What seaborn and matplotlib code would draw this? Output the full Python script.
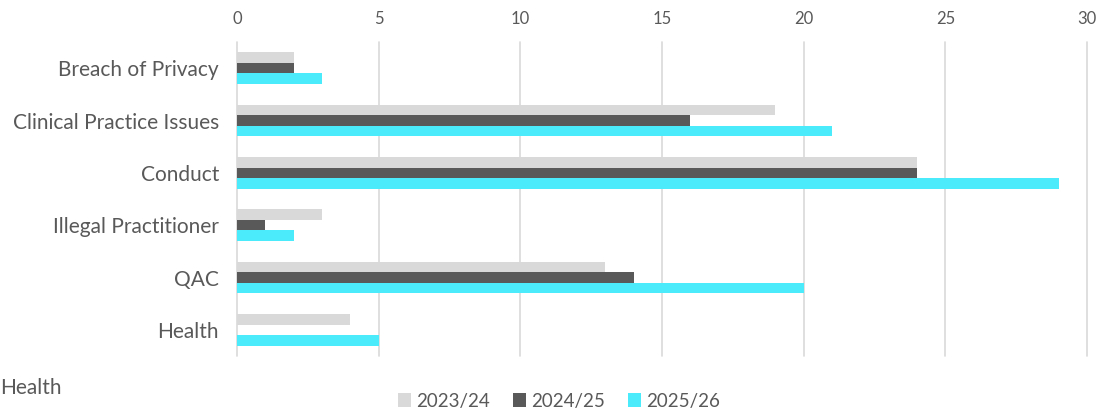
import matplotlib
matplotlib.use("Agg")
import matplotlib.pyplot as plt
import seaborn as sns
import pandas as pd
from matplotlib.patches import Patch

categories = ["Breach of Privacy", "Clinical Practice Issues", "Conduct",
              "Illegal Practitioner", "QAC", "Health"]
series_names = ["2023/24", "2024/25", "2025/26"]
v_2023_24 = [2, 19, 24, 3, 13, 4]
v_2024_25 = [2, 16, 24, 1, 14, 0]
v_2025_26 = [3, 21, 29, 2, 20, 5]
x_ticks = [0, 5, 10, 15, 20, 25, 30]

colors = ["#D9D9D9", "#595959", "#4BEBFB"]
text_color = "#595959"

rows = []
for name, vals in zip(series_names, [v_2023_24, v_2024_25, v_2025_26]):
    for c, v in zip(categories, vals):
        rows.append({"Category": c, "Year": name, "Value": v})
df = pd.DataFrame(rows)

sns.set_theme(style="white")
plt.rcParams["font.family"] = ["Lato", "DejaVu Sans"]

fig = plt.figure(figsize=(11.07, 4.15), dpi=100)
ax = fig.add_axes([237/1107, 1 - 356/415, (1087-237)/1107, (356-42)/415])

sns.barplot(data=df, y="Category", x="Value", hue="Year", order=categories,
            hue_order=series_names, palette=colors, orient="h", width=0.6,
            ax=ax, legend=False, saturation=1, linewidth=0)

ax.set_xlim(0, 30)
ax.set_ylim(5.5, -0.5)
ax.set_xticks(x_ticks)
ax.xaxis.tick_top()
ax.tick_params(axis="x", length=0, pad=11, labelsize=12, colors=text_color)
ax.tick_params(axis="y", length=0, pad=13, labelsize=15, colors=text_color)
ax.set_xlabel("")
ax.set_ylabel("")
ax.grid(axis="x", color="#D9D9D9", linewidth=1.2)
for gl in ax.get_xgridlines():
    gl.set_clip_on(False)
ax.set_axisbelow(True)
for s in ax.spines.values():
    s.set_visible(False)

fig.text(0.0, 1 - 388/415, "Health", ha="left", va="center",
         fontsize=15, color=text_color)

handles = [Patch(facecolor=c, edgecolor="none") for c in colors]
fig.legend(handles, series_names, loc="center", bbox_to_anchor=(0.505, 1 - 401/415),
           ncol=3, frameon=False, fontsize=13.5, labelcolor=text_color,
           handlelength=0.7, handleheight=0.7, handletextpad=0.3, columnspacing=1.2)

fig.savefig("out.png", dpi=100)
